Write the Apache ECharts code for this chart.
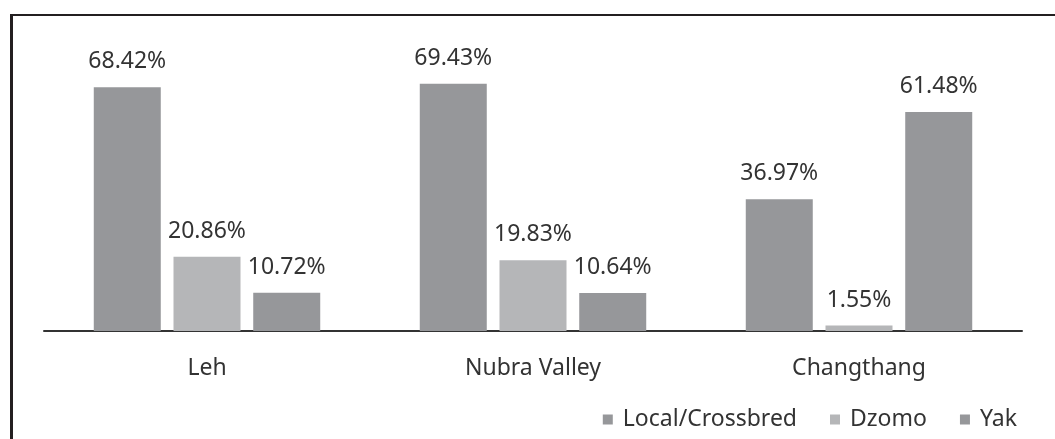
<!DOCTYPE html>
<html>
<head>
<meta charset="utf-8">
<script src="https://cdn.jsdelivr.net/npm/echarts@6/dist/echarts.min.js"></script>
<style>
  body { margin: 0; background: #fff; }
  #chart { position: absolute; left: 0; top: 0; width: 1055px; height: 439px; }
  /* frame round the figure, only the top and left edges are in view */
  #frame {
    position: absolute; left: 10px; top: 14px; width: 1050px; height: 430px;
    border-top: 2px solid #231f20; border-left: 3px solid #231f20;
    pointer-events: none;
  }
</style>
</head>
<body>
<div id="chart"></div>
<div id="frame"></div>
<script>
const categories = ['Leh', 'Nubra Valley', 'Changthang'];
const localCrossbred = [68.42, 69.43, 36.97];
const dzomo = [20.86, 19.83, 1.55];
const yak = [10.72, 10.64, 61.48];

const darkGrey = '#96979a';
const lightGrey = '#b5b6b8';
const textColor = '#333333';
const fontFamily = 'Noto Sans';

// label shown above every bar
const barLabel = {
  show: true,
  position: 'top',
  distance: 14,
  color: textColor,
  fontFamily: fontFamily,
  fontSize: 23,
  formatter: p => p.value.toFixed(2) + '%'
};

const chart = echarts.init(document.getElementById('chart'));

chart.setOption({
  animation: false,
  textStyle: { fontFamily: fontFamily },
  grid: { left: 44, right: 33, top: 46, bottom: 108 },
  legend: {
    right: 33,
    bottom: 3,
    itemWidth: 10,
    itemHeight: 10,
    itemGap: 33,
    icon: 'rect',
    textStyle: { color: textColor, fontSize: 23, fontFamily: fontFamily, padding: [0, 0, 0, 5] },
    data: ['Local/Crossbred', 'Dzomo', 'Yak']
  },
  xAxis: {
    type: 'category',
    data: categories,
    axisLine: { lineStyle: { color: '#333333', width: 2 } },
    axisTick: { show: false },
    axisLabel: { color: textColor, fontSize: 23, fontFamily: fontFamily, margin: 26 }
  },
  yAxis: {
    type: 'value',
    min: 0,
    max: 80,
    show: false
  },
  series: [
    {
      name: 'Local/Crossbred',
      type: 'bar',
      data: localCrossbred,
      barWidth: 67,
      barGap: '19%',
      itemStyle: { color: darkGrey },
      label: barLabel
    },
    {
      name: 'Dzomo',
      type: 'bar',
      data: dzomo,
      barWidth: 67,
      barGap: '19%',
      itemStyle: { color: lightGrey },
      label: barLabel
    },
    {
      name: 'Yak',
      type: 'bar',
      data: yak,
      barWidth: 67,
      barGap: '19%',
      itemStyle: { color: darkGrey },
      label: barLabel
    }
  ]
});
</script>
</body>
</html>
